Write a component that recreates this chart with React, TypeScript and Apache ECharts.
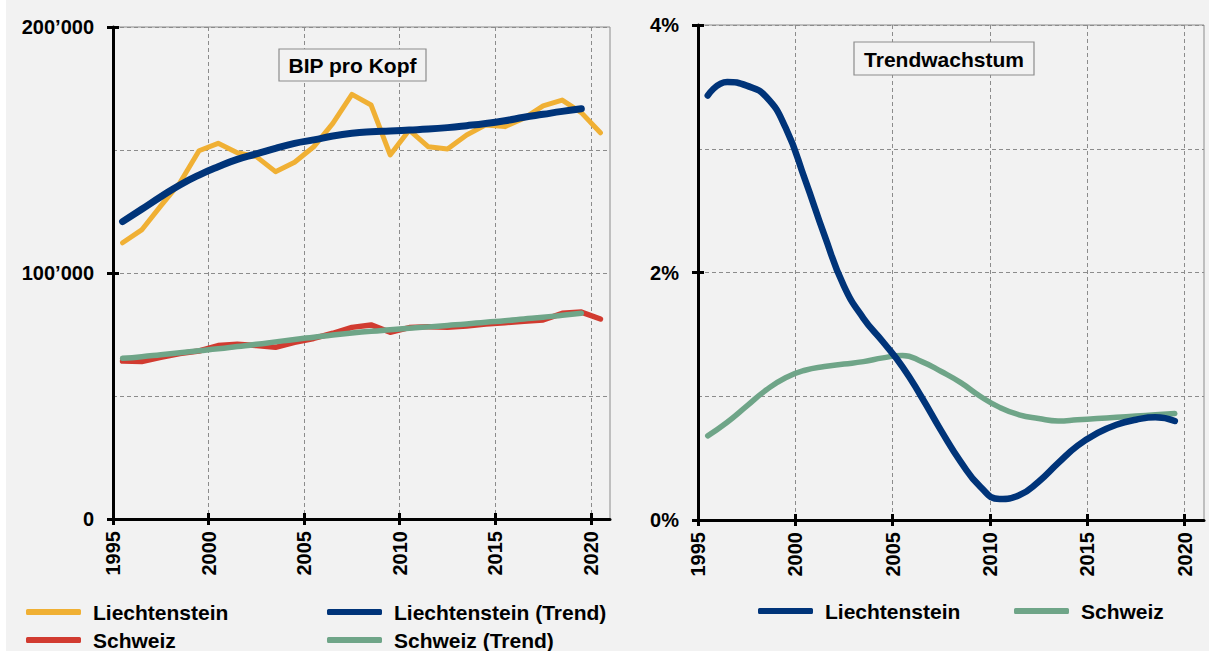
import React, { useEffect, useRef } from 'react';
import * as echarts from 'echarts';

const YEARS = [1995, 1996, 1997, 1998, 1999, 2000, 2001, 2002, 2003, 2004, 2005, 2006, 2007, 2008, 2009, 2010, 2011, 2012, 2013, 2014, 2015, 2016, 2017, 2018, 2019, 2020];
const TICK_YEARS = [1995, 2000, 2005, 2010, 2015, 2020];

// BIP pro Kopf (CHF), annual values 1995-2020
const LI_BIP = [112300, 117500, 127300, 136700, 149700, 152700, 148900, 147300, 141200, 145000, 151300, 160800, 172600, 168300, 148000, 158100, 151300, 150400, 156100, 160200, 159500, 162900, 167900, 170300, 165200, 157000];
const CH_BIP = [64200, 64000, 65700, 67300, 68300, 70500, 71000, 70500, 69800, 71800, 73400, 75500, 77900, 78900, 75900, 77800, 78200, 77900, 78500, 79300, 79800, 80400, 80900, 83600, 84100, 81300];
// Trend 1995-2019
const LI_TREND = [120900, 125900, 131000, 135800, 139800, 143200, 146200, 148400, 150700, 152700, 154100, 155700, 156800, 157400, 157700, 158100, 158500, 159100, 159900, 160800, 161900, 163300, 164500, 165700, 166800];
const CH_TREND = [65300, 66000, 66800, 67600, 68400, 69200, 70100, 71000, 72000, 73000, 73900, 74800, 75600, 76300, 76900, 77500, 78100, 78700, 79300, 80000, 80600, 81300, 82000, 82800, 83600];
// Trendwachstum (%) 1995-2019
const LI_GROWTH = [3.43, 3.54, 3.51, 3.42, 3.17, 2.75, 2.30, 1.89, 1.63, 1.44, 1.24, 0.99, 0.72, 0.47, 0.27, 0.17, 0.20, 0.31, 0.46, 0.60, 0.70, 0.77, 0.81, 0.83, 0.80];
const CH_GROWTH = [0.68, 0.79, 0.92, 1.05, 1.15, 1.21, 1.24, 1.26, 1.28, 1.31, 1.33, 1.28, 1.20, 1.11, 1.00, 0.91, 0.85, 0.82, 0.80, 0.81, 0.82, 0.83, 0.84, 0.85, 0.86];

const FONT = '"Liberation Sans", Arial, Helvetica, sans-serif';
const C_ORANGE = '#f0b034';
const C_NAVY = '#003479';
const C_RED = '#d13b30';
const C_GREEN = '#6fa588';
const GRID_GRAY = '#8c8c8c';

const pts = (vals: number[]) => vals.map((v, i) => [YEARS[i] + 0.5, v]);

function mainX(gridIndex: number) {
  return {
    type: 'value', gridIndex, min: 1995, max: 2021, interval: 5, position: 'bottom',
    axisLine: { show: true, onZero: false, lineStyle: { color: '#000', width: 3 } },
    axisTick: { show: true, length: 6, customValues: TICK_YEARS, lineStyle: { color: '#000', width: 3 } },
    axisLabel: { customValues: TICK_YEARS, rotate: 90, margin: 12, fontSize: 20, fontWeight: 'bold', color: '#000', fontFamily: FONT, formatter: (v: number) => String(v) },
    splitLine: { show: true, lineStyle: { color: GRID_GRAY, width: 1, type: [4, 3] } },
  };
}
function innerX(gridIndex: number) {
  return {
    type: 'value', gridIndex, min: 1995, max: 2021, interval: 5, position: 'bottom',
    axisLine: { show: false, onZero: false },
    axisTick: { show: true, inside: true, length: 6, customValues: TICK_YEARS, lineStyle: { color: '#000', width: 3 } },
    axisLabel: { show: false },
    splitLine: { show: false },
  };
}
function mainY(gridIndex: number, max: number, interval: number, fmt: (v: number) => string) {
  return {
    type: 'value', gridIndex, min: 0, max, interval, position: 'left',
    axisLine: { show: true, onZero: false, lineStyle: { color: '#000', width: 3 } },
    axisTick: { show: true, length: 6, lineStyle: { color: '#000', width: 3 } },
    axisLabel: { margin: 19, fontSize: 20, fontWeight: 'bold', color: '#000', fontFamily: FONT, formatter: fmt },
    splitLine: { show: true, lineStyle: { color: GRID_GRAY, width: 1, type: [4, 3] } },
    minorTick: { show: false, splitNumber: 2 },
    minorSplitLine: { show: true, lineStyle: { color: GRID_GRAY, width: 1, type: [4, 3] } },
  };
}
function innerY(gridIndex: number, max: number, interval: number) {
  return {
    type: 'value', gridIndex, min: 0, max, interval, position: 'left',
    axisLine: { show: false, onZero: false },
    axisTick: { show: true, inside: true, length: 6, lineStyle: { color: '#000', width: 3 } },
    axisLabel: { show: false },
    splitLine: { show: false },
  };
}

function legendItem(name: string, left: number, top: number, label?: string) {
  return {
    data: [name], left, top, orient: 'horizontal', padding: 0, selectedMode: false,
    icon: 'roundRect', itemWidth: 55, itemHeight: 6,
    formatter: () => label ?? name,
    textStyle: { fontSize: 21, fontWeight: 'bold', color: '#000', fontFamily: FONT, lineHeight: 24, padding: [0, 0, 0, 7] },
  };
}

function lineSeries(name: string, color: string, data: number[][], width: number, smooth: boolean | number, axis: number, z: number) {
  return {
    name, type: 'line', xAxisIndex: axis, yAxisIndex: axis, data, smooth, showSymbol: false, symbol: 'none', z,
    color, itemStyle: { color },
    lineStyle: { color, width, cap: 'round', join: 'round' },
  };
}

export default function App() {
  const ref = useRef<HTMLDivElement>(null);
  useEffect(() => {
    document.body.style.margin = '0';
    const chart = echarts.init(ref.current!, null, { renderer: 'svg' });
    const option = {
      animation: false,
      backgroundColor: '#f2f2f2',
      grid: [
        { left: 113, top: 27, width: 497, height: 492, show: true, borderColor: GRID_GRAY, borderWidth: 1, backgroundColor: 'transparent' },
        { left: 698, top: 25, width: 506, height: 495, show: true, borderColor: GRID_GRAY, borderWidth: 1, backgroundColor: 'transparent' },
      ],
      xAxis: [mainX(0), mainX(1), innerX(0), innerX(1)],
      yAxis: [
        mainY(0, 200000, 100000, (v: number) => (v === 0 ? '0' : `${v / 1000}\u2019000`)),
        mainY(1, 4, 2, (v: number) => `${v}%`),
        innerY(0, 200000, 100000),
        innerY(1, 4, 2),
      ],
      legend: [
        legendItem('Liechtenstein', 26, 600),
        legendItem('Liechtenstein (Trend)', 327, 600),
        legendItem('Schweiz', 26, 628),
        legendItem('Schweiz (Trend)', 327, 628),
        legendItem('LI Trendwachstum', 758, 599, 'Liechtenstein'),
        legendItem('CH Trendwachstum', 1014, 599, 'Schweiz'),
      ],
      series: [
        lineSeries('Liechtenstein', C_ORANGE, pts(LI_BIP), 5, false, 0, 2),
        lineSeries('Liechtenstein (Trend)', C_NAVY, pts(LI_TREND), 7, true, 0, 3),
        lineSeries('Schweiz', C_RED, pts(CH_BIP), 5.5, false, 0, 2),
        lineSeries('Schweiz (Trend)', C_GREEN, pts(CH_TREND), 5.5, true, 0, 3),
        lineSeries('LI Trendwachstum', C_NAVY, pts(LI_GROWTH), 6.5, 0.5, 1, 3),
        lineSeries('CH Trendwachstum', C_GREEN, pts(CH_GROWTH), 5.5, 0.5, 1, 2),
      ],
      graphic: [
        { type: 'rect', shape: { x: 0, y: 0, width: 6, height: 651 }, style: { fill: '#ffffff' }, silent: true },
        { type: 'rect', shape: { x: 279, y: 49, width: 147, height: 32 }, style: { fill: '#f2f2f2', stroke: GRID_GRAY, lineWidth: 1.2 }, z: 10 },
        { type: 'text', x: 352.5, y: 65.5, style: { text: 'BIP pro Kopf', font: `bold 21px ${FONT}`, fill: '#000', align: 'center', verticalAlign: 'middle' }, z: 11 },
        { type: 'rect', shape: { x: 854, y: 42, width: 180, height: 33 }, style: { fill: '#f2f2f2', stroke: GRID_GRAY, lineWidth: 1.2 }, z: 10 },
        { type: 'text', x: 944, y: 59, style: { text: 'Trendwachstum', font: `bold 21px ${FONT}`, fill: '#000', align: 'center', verticalAlign: 'middle' }, z: 11 },
      ],
    };
    chart.setOption(option as any);
    return () => chart.dispose();
  }, []);
  return <div ref={ref} style={{ width: 1209, height: 651 }} />;
}
